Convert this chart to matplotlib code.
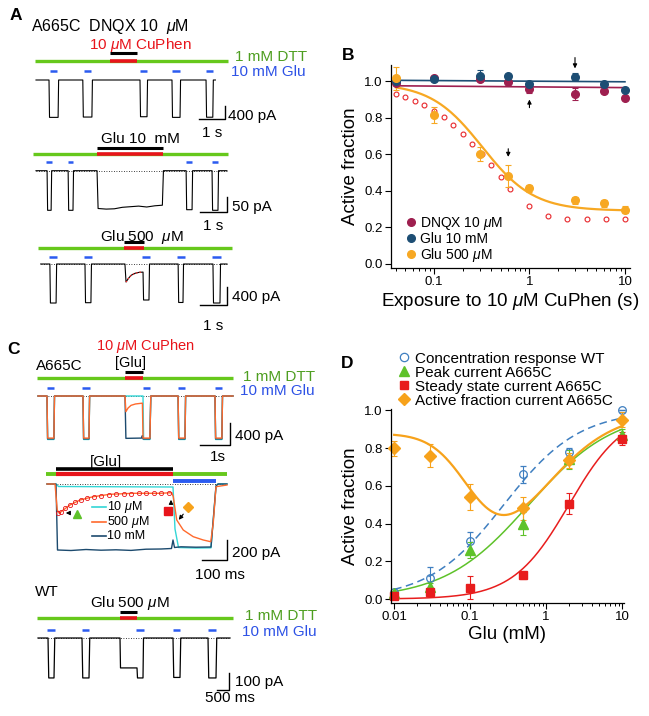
import numpy as np
import matplotlib
matplotlib.use('Agg')
import matplotlib.pyplot as plt
from matplotlib.lines import Line2D

W, H = 649, 716

# ---------------- panel B: active fraction vs CuPhen exposure ----------------
exp_t = [0.04, 0.1, 0.3, 0.6, 1, 3, 6, 10]
dnqx = [0.99, 1.02, 1.01, 0.995, 0.96, 0.93, 0.945, 0.91]
dnqx_err = [0.01, 0.01, 0.01, 0.01, 0.025, 0.035, 0.01, 0.01]
glu10 = [1.00, 1.01, 1.03, 1.03, 0.985, 1.025, 0.985, 0.95]
glu10_err = [0.01, 0.01, 0.03, 0.01, 0.015, 0.02, 0.015, 0.01]
glu500 = [1.015, 0.815, 0.60, 0.478, 0.413, 0.347, 0.33, 0.295]
glu500_err = [0.065, 0.045, 0.04, 0.06, 0.02, 0.02, 0.02, 0.02]
sim_t = [0.04, 0.05, 0.063, 0.079, 0.1, 0.126, 0.158, 0.2, 0.25, 0.316, 0.4,
         0.5, 0.63, 1.0, 1.58, 2.5, 4.0, 6.3, 10]
sim_af = [0.93, 0.912, 0.894, 0.867, 0.838, 0.803, 0.761, 0.712, 0.657, 0.602,
          0.538, 0.474, 0.41, 0.314, 0.259, 0.245, 0.243, 0.243, 0.243]
dnqx_fit = [0.975, 0.965]
glu10_fit = [1.005, 0.997]
glu500_fit = dict(base=0.29, span=0.70, t50=0.32, n=1.61)
arrow_t = [3, 1, 0.6]

# ---------------- panel D: concentration response ----------------
glu_mm = [0.01, 0.03, 0.1, 0.5, 2, 10]
wt = [0.035, 0.11, 0.305, 0.66, 0.78, 1.0]
wt_err = [0.01, 0.06, 0.05, 0.045, 0.02, 0.0]
peak = [0.03, 0.065, 0.26, 0.40, 0.74, 0.87]
peak_err = [0.01, 0.02, 0.04, 0.06, 0.05, 0.03]
steady = [0.015, 0.035, 0.06, 0.125, 0.505, 0.85]
steady_err = [0.005, 0.01, 0.06, 0.02, 0.055, 0.035]
active = [0.80, 0.76, 0.54, 0.48, 0.735, 0.95]
active_err = [0.04, 0.06, 0.07, 0.06, 0.04, 0.04]
wt_fit = dict(ec50=0.278, n=0.878)
peak_fit = dict(ec50=0.594, n=0.778)
steady_fit = dict(ec50=2.0, n=1.18)
active_fit = dict(d0=0.87, ic50=0.1, m=1.6, ec50=0.7, n=0.9)

# ---------------- traces (time in s, current in pA) ----------------
A1_glu = [(0.50, 0.85), (1.80, 2.15), (4.00, 4.27), (5.23, 5.54), (6.54, 6.80)]
A1_amp = [-1150, -1140, -1130, -1150, -1145]
A1_cuphen = (2.85, 3.88)
A1_dtt = (-0.04, 7.38)
A1_end = 6.9

A2_glu = [(0.41, 0.56), (1.19, 1.37), (5.56, 5.78), (6.52, 6.74)]
A2_amp = [-132, -132, -130, -132]
A2_cuphen = (2.26, 4.70)
A2_plat_t = [2.30, 2.6, 2.9, 3.2, 3.5, 3.8, 4.1, 4.4, 4.68]
A2_plat_i = [-126, -128, -127, -122, -120, -118, -121, -117, -115]
A2_dtt = (-0.1, 7.1)
A2_end = 7.07

A3_glu = [(0.34, 0.57), (1.64, 1.86), (5.09, 5.27), (6.38, 6.64)]
A3_amp = [-867, -860, -855, -867]
A3_cuphen = (3.1, 3.83)
A3_seg_t = [3.12, 3.16, 3.25, 3.35, 3.5, 3.65, 3.79, 3.81, 4.01, 4.03]
A3_seg_i = [0, -400, -320, -250, -205, -185, -180, -800, -800, 0]
A3_dtt = (-0.1, 7.1)
A3_end = 6.9

C1_glu = [(0.30, 0.53), (1.50, 1.70), (4.67, 4.90), (5.90, 6.13)]
C1_amp = {'10 mM': -780, '10 µM': -790, '500 µM': -765}
C1_cuphen = (2.9, 3.5)
C1_seg = {
    '10 µM': ([3.5, 3.52, 3.73, 3.76], [0, -790, -790, 0]),
    '10 mM': ([2.9, 2.93, 3.45, 3.48, 3.5, 3.73, 3.76],
              [0, -770, -765, -720, -780, -780, 0]),
    '500 µM': ([2.9, 2.93, 3.0, 3.1, 3.25, 3.48, 3.5, 3.73, 3.76],
               [0, -285, -220, -170, -145, -130, -765, -765, 0]),
}
C1_dtt = (-0.03, 6.5)
C1_end = 6.5

# expanded view, time in ms
C2_glu = (0, 468)
C2_wash = (468, 640)
C2_dtt = (-40, 684)
C2_dark_t = [-36, 0, 6, 60, 120, 180, 240, 300, 360, 420, 462, 468, 474, 500, 560, 620, 640, 648, 684]
C2_dark_i = [0, 0, -660, -665, -655, -662, -658, -664, -652, -650, -645, -560, -635, -628, -632, -630, -20, 0, 0]
C2_cyan_t = [-36, 0, 10, 468, 476, 490, 560, 620, 640, 648, 684]
C2_cyan_i = [0, 0, -25, -30, -450, -635, -640, -638, -20, 0, 0]
C2_orange_t = [-36, -4, 5, 13, 29, 56, 96, 149, 216, 309, 416, 463, 469, 483, 509, 549, 589, 619, 629, 640, 684]
C2_orange_i = [0, 0, -260, -293, -260, -210, -160, -127, -103, -93, -93, -87, -127, -360, -460, -527, -560, -577, -390, -27, -10]
C2_sim_t = [8, 20, 35, 55, 75, 100, 125, 150, 180, 210, 240, 270, 300, 330, 360, 390, 420, 450]
C2_sim_i = [-290, -275, -240, -205, -180, -155, -135, -125, -115, -105, -100, -97, -95, -93, -92, -92, -91, -90]

C3_glu = [(0.40, 0.64), (1.76, 2.04), (5.40, 5.68), (6.80, 7.12)]
C3_amp = [-235, -235, -232, -235]
C3_cuphen = (3.28, 3.96)
C3_seg_t = [3.28, 3.30, 3.96, 3.98, 4.20, 4.22]
C3_seg_i = [0, -176, -176, -235, -235, 0]
C3_dtt = (-0.04, 7.8)
C3_end = 7.68

GREEN = '#66c81c'
RED = '#e8141b'
BLUE = '#2b5bf0'
DTT_TXT = '#4e9e20'
GLU_TXT = '#2d52e6'


def txt(fig, x, y, s, **kw):
    kw.setdefault('fontsize', 11)
    kw.setdefault('va', 'center')
    fig.text(x / W, 1 - y / H, s, **kw)


def trace_axes(fig, top, bottom, t0, px_s, base, px_pa):
    # axes spanning the left column; data units are s (or ms) and pA
    ax = fig.add_axes([0, 1 - bottom / H, 330 / W, (bottom - top) / H])
    ax.set_xlim(-t0 / px_s, (330 - t0) / px_s)
    ax.set_ylim((base - bottom) / px_pa, (base - top) / px_pa)
    ax.axis('off')
    return ax, (lambda y: (base - y) / px_pa)


def make_trace(t_end, pulses, amps, ramp, extra=None):
    segs = [[(s, 0), (s + ramp, a), (e, a), (e + ramp, 0)] for (s, e), a in zip(pulses, amps)]
    if extra is not None:
        segs.append(list(zip(*extra)))
    segs.sort(key=lambda seg: seg[0][0])
    pts = [(0, 0)]
    for seg in segs:
        pts += seg
    pts.append((t_end, 0))
    t, y = zip(*pts)
    return t, y


def bars(ax, lv, dtt, cuphen, pulses, y_dtt, y_black, y_glu, dash=0.27):
    ax.plot(dtt, [lv(y_dtt)] * 2, color=GREEN, lw=2.4, solid_capstyle='butt')
    ax.plot(cuphen, [lv(y_dtt)] * 2, color=RED, lw=2.6, solid_capstyle='butt')
    ax.plot(cuphen, [lv(y_black)] * 2, color='black', lw=2.2, solid_capstyle='butt')
    for s, e in pulses:
        c = (s + e) / 2
        ax.plot([c - dash / 2, c + dash / 2], [lv(y_glu)] * 2, color=BLUE, lw=1.8,
                solid_capstyle='butt')


def scalebar(ax, t, i, dt, di):
    ax.plot([t - dt, t, t], [i, i, i + di], color='black', lw=1.0, clip_on=False)


def hill(x, ec50, n):
    return 1 / (1 + (ec50 / x) ** n)


def main():
    plt.rcParams['font.family'] = 'Liberation Sans'
    plt.rcParams['mathtext.fontset'] = 'custom'
    plt.rcParams['mathtext.rm'] = 'Liberation Sans'
    plt.rcParams['mathtext.it'] = 'Liberation Sans:italic'

    fig = plt.figure(figsize=(6.49, 7.16), dpi=100)
    mu = r'$\mu$'

    # ---------- A1 ----------
    ax, lv = trace_axes(fig, 20, 140, 36, 26, 80, 0.0325)
    t, y = make_trace(A1_end, A1_glu, A1_amp, 0.02)
    ax.plot(t, y, color='black', lw=0.8)
    bars(ax, lv, A1_dtt, A1_cuphen, A1_glu, 61, 53, 71)
    scalebar(ax, 7.27, -1200, 1, 400)
    txt(fig, 31, 26, 'A665C  DNQX 10  ' + mu + 'M', fontsize=11.5)
    txt(fig, 140, 45, '10 ' + mu + 'M CuPhen', color=RED, ha='center')
    txt(fig, 235, 57, '1 mM DTT', color=DTT_TXT)
    txt(fig, 231, 72, '10 mM Glu', color=GLU_TXT)
    txt(fig, 228, 116, '400 pA')
    txt(fig, 212, 133, '1 s', ha='center')

    # ---------- A2 ----------
    ax, lv = trace_axes(fig, 130, 235, 36, 27, 170.7, 0.3)
    extra = ([A2_cuphen[0]] + A2_plat_t + [A2_cuphen[1] + 0.02],
             [0] + A2_plat_i + [0])
    t, y = make_trace(A2_end, A2_glu, A2_amp, 0.02, extra)
    ax.plot([0, A2_end], [0, 0], color='black', lw=0.6, ls=(0, (1, 2)))
    ax.plot(t, y, color='black', lw=0.8)
    bars(ax, lv, A2_dtt, A2_cuphen, A2_glu, 154, 148, 162, dash=0.2)
    scalebar(ax, 7.07, -138, 1, 50)
    txt(fig, 140, 139, 'Glu 10  mM', ha='center')
    txt(fig, 232, 207, '50 pA')
    txt(fig, 213, 226, '1 s', ha='center')

    # ---------- A3 ----------
    ax, lv = trace_axes(fig, 228, 335, 40.7, 27, 264, 0.045)
    t, y = make_trace(A3_end, A3_glu, A3_amp, 0.02, (A3_seg_t, A3_seg_i))
    ax.plot([0, A3_end], [0, 0], color='black', lw=0.6, ls=(0, (1, 2)))
    ax.plot(t, y, color='black', lw=0.8)
    ax.plot(A3_seg_t[1:7], A3_seg_i[1:7], color='#ff3030', lw=1.0, ls=(0, (1, 1.5)))
    a3_dash = A3_glu[:2] + [(3.79, 4.01)] + A3_glu[2:]
    bars(ax, lv, A3_dtt, A3_cuphen, a3_dash, 248, 242, 257, dash=0.3)
    scalebar(ax, 6.9, -911, 1, 400)
    txt(fig, 142, 237, 'Glu 500  ' + mu + 'M', ha='center')
    txt(fig, 232, 297, '400 pA')
    txt(fig, 213, 326, '1 s', ha='center')

    # ---------- C1 ----------
    colors = {'10 µM': '#33d6d6', '500 µM': '#ff6a2d', '10 mM': '#1c4a6e'}
    ax, lv = trace_axes(fig, 365, 462, 38, 30, 396, 0.055)
    ax.plot([0, C1_end], [0, 0], color='black', lw=0.6, ls=(0, (1, 2)))
    for key in ['10 µM', '10 mM', '500 µM']:
        amps = [C1_amp[key]] * len(C1_glu)
        t, y = make_trace(C1_end, C1_glu, amps, 0.02, C1_seg[key])
        ax.plot(t, y, color=colors[key], lw=1.0)
    c1_dash = C1_glu[:2] + [(3.5, 3.73)] + C1_glu[2:]
    bars(ax, lv, C1_dtt, C1_cuphen, c1_dash, 378, 372, 388, dash=0.25)
    scalebar(ax, 6.4, -891, 1, 400)
    txt(fig, 145, 346, '10 ' + mu + 'M CuPhen', color=RED, ha='center', fontsize=10.5)
    txt(fig, 36, 366, 'A665C')
    txt(fig, 130, 363, '[Glu]', ha='center', fontsize=10.5)
    txt(fig, 243, 377, '1 mM DTT', color=DTT_TXT)
    txt(fig, 240, 391, '10 mM Glu', color=GLU_TXT)
    txt(fig, 235, 436, '400 pA')
    txt(fig, 218, 457, '1s', ha='center')

    # ---------- C2 (expanded, ms) ----------
    ax, lv = trace_axes(fig, 455, 585, 56, 0.25, 484, 0.1)
    ax.plot(C2_dtt, [lv(474)] * 2, color=GREEN, lw=2.8, solid_capstyle='butt')
    ax.plot(C2_glu, [lv(474)] * 2, color=RED, lw=3.0, solid_capstyle='butt')
    ax.plot(C2_glu, [lv(469)] * 2, color='black', lw=2.6, solid_capstyle='butt')
    ax.plot(C2_wash, [lv(481)] * 2, color=BLUE, lw=2.8, solid_capstyle='butt')
    ax.plot([-36, 684], [0, 0], color='black', lw=0.6, ls=(0, (1, 2)))
    ax.plot(C2_cyan_t, C2_cyan_i, color=colors['10 µM'], lw=1.0)
    ax.plot(C2_dark_t, C2_dark_i, color=colors['10 mM'], lw=1.0)
    ax.plot(C2_orange_t, C2_orange_i, color=colors['500 µM'], lw=1.0)
    ax.plot(C2_sim_t, C2_sim_i, 'o', mfc='none', mec=RED, ms=3, mew=0.6)
    ap = dict(arrowstyle='-|>', color='black', lw=0.8, mutation_scale=6)
    ax.plot(84, -300, '^', color='#5ec22a', ms=6)
    ax.annotate('', xy=(28, -290), xytext=(64, -290), arrowprops=ap)
    ax.plot(448, -270, 's', color=RED, ms=5.5)
    ax.annotate('', xy=(460, -130), xytext=(460, -230), arrowprops=ap)
    ax.plot(528, -230, 'D', color='#f7a21b', ms=5.5)
    ax.annotate('', xy=(484, -380), xytext=(516, -280), arrowprops=ap)
    scalebar(ax, 684, -760, 100, 200)
    for k, (key, yy) in enumerate(zip(['10 µM', '500 µM', '10 mM'], [507, 521.5, 536])):
        ax.plot([(92 - 56) / 0.25, (106 - 56) / 0.25], [lv(yy)] * 2, color=colors[key], lw=1.2)
        txt(fig, 107, yy, ['10 ' + mu + 'M', '500 ' + mu + 'M', '10 mM'][k], fontsize=9)
    txt(fig, 106, 462, '[Glu]', ha='center')
    txt(fig, 232, 553, '200 pA')
    txt(fig, 220, 575, '100 ms', ha='center')

    # ---------- C3 (WT) ----------
    ax, lv = trace_axes(fig, 605, 700, 38, 25, 638, 0.17)
    t, y = make_trace(C3_end, C3_glu, C3_amp, 0.03, (C3_seg_t, C3_seg_i))
    ax.plot([0, C3_end], [0, 0], color='black', lw=0.6, ls=(0, (1, 2)))
    ax.plot(t, y, color='black', lw=0.9)
    c3_dash = C3_glu[:2] + [(3.96, 4.2)] + C3_glu[2:]
    bars(ax, lv, C3_dtt, C3_cuphen, c3_dash, 618, 612, 630, dash=0.3)
    scalebar(ax, 7.64, -306, 0.5, 100)
    txt(fig, 35, 592, 'WT')
    txt(fig, 130, 603, 'Glu 500 ' + mu + 'M', ha='center')
    txt(fig, 245, 616, '1 mM DTT', color=DTT_TXT)
    txt(fig, 242, 632, '10 mM Glu', color=GLU_TXT)
    txt(fig, 235, 682, '100 pA')
    txt(fig, 230, 698, '500 ms', ha='center')

    # ---------- B ----------
    maroon, navy, orng = '#9e1f4f', '#1d4e74', '#f7a823'
    axb = fig.add_axes([391 / W, 1 - 268 / H, (630 - 391) / W, (268 - 65) / H])
    axb.set_xscale('log')
    axb.plot(sim_t, sim_af, 'o', mfc='none', mec='#e8262a', ms=3.5, mew=0.8, zorder=2)
    tt = np.logspace(np.log10(0.04), 1, 200)
    f = glu500_fit
    axb.plot(tt, f['base'] + f['span'] / (1 + (tt / f['t50']) ** f['n']), color=orng, lw=1.6, zorder=3)
    axb.plot([0.04, 10], dnqx_fit, color=maroon, lw=1.2, zorder=3)
    axb.plot([0.04, 10], glu10_fit, color=navy, lw=1.2, zorder=3)
    ebk = dict(fmt='o', ms=5.5, capsize=2, elinewidth=0.8, capthick=0.8, zorder=4)
    axb.errorbar(exp_t, dnqx, yerr=dnqx_err, color=maroon, **ebk)
    axb.errorbar(exp_t, glu10, yerr=glu10_err, color=navy, **ebk)
    axb.errorbar(exp_t, glu500, yerr=glu500_err, color=orng, **ebk)
    ap = dict(arrowstyle='-|>', color='black', lw=0.8, mutation_scale=6)
    axb.annotate('', xy=(arrow_t[0], 1.055), xytext=(arrow_t[0], 1.145), arrowprops=ap,
                 annotation_clip=False)
    axb.annotate('', xy=(arrow_t[1], 0.915), xytext=(arrow_t[1], 0.84), arrowprops=ap)
    axb.annotate('', xy=(arrow_t[2], 0.57), xytext=(arrow_t[2], 0.645), arrowprops=ap)
    axb.set_xlim(0.0355, 11.3)
    axb.set_ylim(-0.024, 1.089)
    axb.set_xticks([0.1, 1, 10])
    axb.set_xticklabels(['0.1', '1', '10'])
    axb.set_yticks(np.arange(0, 1.01, 0.2))
    axb.set_yticklabels(['%.1f' % v for v in np.arange(0, 1.01, 0.2)])
    axb.set_xlabel('Exposure to 10 ' + mu + 'M CuPhen (s)', fontsize=13.5, labelpad=2)
    axb.set_ylabel('Active fraction', fontsize=13.5, labelpad=4)
    hb = [Line2D([], [], marker='o', ls='none', color=c, ms=5.5) for c in (maroon, navy, orng)]
    axb.legend(hb, ['DNQX 10 ' + mu + 'M', 'Glu 10 mM', 'Glu 500 ' + mu + 'M'],
               loc='upper left', bbox_to_anchor=(398 / W, 1 - 208 / H),
               bbox_transform=fig.transFigure, frameon=False, fontsize=10,
               handlelength=0.8, handletextpad=0.3, labelspacing=0.0, borderpad=0)

    # ---------- D ----------
    wtc, grn, red, orn = '#3f7fc0', '#5ec22a', '#e81d1d', '#f7a21b'
    axd = fig.add_axes([391 / W, 1 - 603 / H, (624 - 391) / W, (603 - 409) / H])
    axd.set_xscale('log')
    xx = np.logspace(-2, 1, 300)
    axd.plot(xx, hill(xx, **wt_fit), color=wtc, lw=1.1, ls=(0, (5, 3)))
    axd.plot(xx, hill(xx, **peak_fit), color=grn, lw=1.1)
    axd.plot(xx, hill(xx, **steady_fit), color=red, lw=1.1)
    a = active_fit
    act = a['d0'] / (1 + (xx / a['ic50']) ** a['m']) + hill(xx, a['ec50'], a['n'])
    axd.plot(xx, act, color=orn, lw=1.6)
    ek = dict(capsize=2.5, elinewidth=0.8, capthick=0.8, clip_on=False)
    axd.errorbar(glu_mm, wt, yerr=wt_err, fmt='o', mfc='none', mec=wtc, ecolor=wtc, ms=5.5, mew=0.9, **ek)
    axd.errorbar(glu_mm, peak, yerr=peak_err, fmt='^', color=grn, ms=6.5, **ek)
    axd.errorbar(glu_mm, steady, yerr=steady_err, fmt='s', color=red, ms=6, **ek)
    axd.errorbar(glu_mm, active, yerr=active_err, fmt='D', color=orn, ms=6.5, **ek)
    axd.set_xlim(0.0091, 10.6)
    axd.set_ylim(-0.021, 1.007)
    axd.set_xticks([0.01, 0.1, 1, 10])
    axd.set_xticklabels(['0.01', '0.1', '1', '10'])
    axd.set_yticks(np.arange(0, 1.01, 0.2))
    axd.set_yticklabels(['%.1f' % v for v in np.arange(0, 1.01, 0.2)])
    axd.set_xlabel('Glu (mM)', fontsize=13.5, labelpad=2)
    axd.set_ylabel('Active fraction', fontsize=13.5, labelpad=4)
    hd = [Line2D([], [], marker='o', ls='none', mfc='none', mec=wtc, ms=6, mew=0.9),
          Line2D([], [], marker='^', ls='none', color=grn, ms=6.5),
          Line2D([], [], marker='s', ls='none', color=red, ms=6),
          Line2D([], [], marker='D', ls='none', color=orn, ms=6.5)]
    axd.legend(hd, ['Concentration response WT', 'Peak current A665C',
                    'Steady state current A665C', 'Active fraction current A665C'],
               loc='upper left', bbox_to_anchor=(390 / W, 1 - 344 / H),
               bbox_transform=fig.transFigure, frameon=False, fontsize=11,
               handlelength=0.8, handletextpad=0.35, labelspacing=0.0, borderpad=0)

    for ax in (axb, axd):
        for s in ('top', 'right'):
            ax.spines[s].set_visible(False)
        for s in ('left', 'bottom'):
            ax.spines[s].set_linewidth(0.9)
        ax.tick_params(which='major', direction='out', length=4, width=0.8, labelsize=9.5, pad=2)
        ax.tick_params(which='minor', direction='out', length=2.5, width=0.7)

    # panel letters
    for lab, x, y in [('A', 16, 16), ('B', 348, 56), ('C', 13, 349), ('D', 347, 364)]:
        txt(fig, x, y, lab, fontsize=12.5, fontweight='bold', ha='center')

    fig.savefig('out.png', dpi=100)


if __name__ == "__main__":
    main()
